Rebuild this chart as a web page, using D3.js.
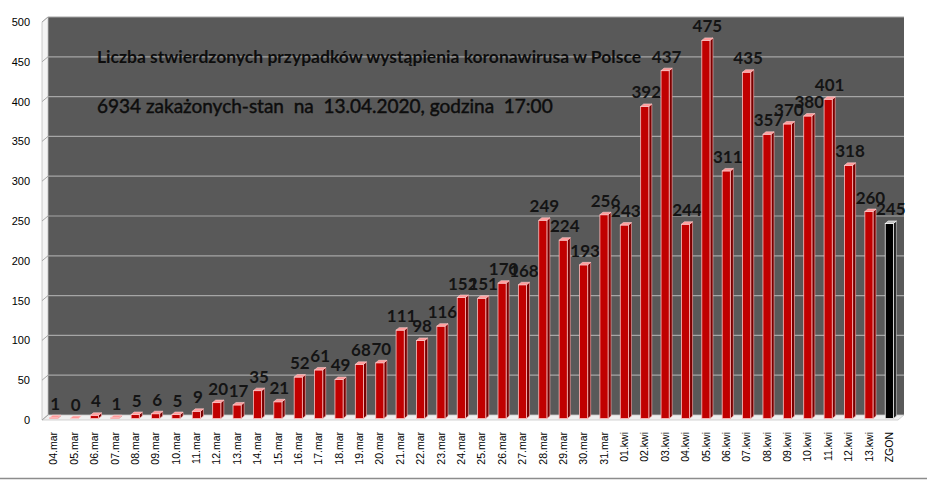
<!DOCTYPE html>
<html>
<head>
<meta charset="utf-8">
<script src="https://cdn.jsdelivr.net/npm/d3@7"></script>
<style>
  body { margin: 0; background: #ffffff; }
  svg { display: block; }
</style>
</head>
<body>
<svg id="chart" width="927" height="480"></svg>
<script>
/***************************  Data ***************************/
var categories = ["04.mar","05.mar","06.mar","07.mar","08.mar","09.mar","10.mar","11.mar","12.mar","13.mar",
                  "14.mar","15.mar","16.mar","17.mar","18.mar","19.mar","20.mar","21.mar","22.mar","23.mar",
                  "24.mar","25.mar","26.mar","27.mar","28.mar","29.mar","30.mar","31.mar",
                  "01.kwi","02.kwi","03.kwi","04.kwi","05.kwi","06.kwi","07.kwi","08.kwi","09.kwi","10.kwi",
                  "11.kwi","12.kwi","13.kwi","ZGON"];
var cases = [1,0,4,1,5,6,5,9,20,17,
             35,21,52,61,49,68,70,111,98,116,
             152,151,170,168,249,224,193,256,
             243,392,437,244,475,311,435,357,370,380,
             401,318,260,245];
var yTicks = [0,50,100,150,200,250,300,350,400,450,500];
var titleLines = ["Liczba stwierdzonych przypadków wystąpienia koronawirusa w Polsce",
                  "6934 zakażonych-stan  na  13.04.2020, godzina  17:00"];

/***************************  Setup ***************************/
var svg = d3.select("#chart");
var depthX = 6, depthY = -5;          // front -> back wall offset
var barDX = 3, barDY = -2.5;          // bar side/top depth
var shiftX = 1.5, shiftY = -1.5;      // bar front face sits a bit behind the floor edge

var x = d3.scaleBand().domain(categories).range([42, 898]).padding(0);
var y = d3.scaleLinear().domain([0, 500]).range([420, 22]);

var x0 = x.range()[0], x1 = x.range()[1];
var yBottom = y(0), yTop = y(500);

function pts(a) { return a.map(function(p){ return p[0] + "," + p[1]; }).join(" "); }

/***************************  Walls ***************************/
// back wall
svg.append("rect")
    .attr("x", x0 + depthX).attr("y", yTop + depthY)
    .attr("width", x1 - x0).attr("height", yBottom - yTop)
    .attr("fill", "#595959");

// left side wall
svg.append("polygon")
    .attr("points", pts([[x0, yTop],[x0 + depthX, yTop + depthY],[x0 + depthX, yBottom + depthY],[x0, yBottom]]))
    .attr("fill", "#f4f4f4")
    .attr("stroke", "#bfbfbf").attr("stroke-width", 0.8);

// floor
svg.append("polygon")
    .attr("points", pts([[x0, yBottom],[x0 + depthX, yBottom + depthY],[x1 + depthX, yBottom + depthY],[x1, yBottom]]))
    .attr("fill", "#efefef")
    .attr("stroke", "#c8c8c8").attr("stroke-width", 0.8);

// gridlines on back wall and side wall
var grid = svg.append("g").attr("id", "grid");
grid.selectAll("line.back")
    .data(yTicks.filter(function(d){ return d > 0; }))
    .enter()
    .append("line")
    .attr("class", "back")
    .attr("x1", x0 + depthX).attr("x2", x1 + depthX)
    .attr("y1", function(d){ return y(d) + depthY; })
    .attr("y2", function(d){ return y(d) + depthY; })
    .attr("stroke", "#a6a6a6").attr("stroke-width", 1.2);
grid.selectAll("line.side")
    .data(yTicks)
    .enter()
    .append("line")
    .attr("class", "side")
    .attr("x1", x0).attr("x2", x0 + depthX)
    .attr("y1", function(d){ return y(d); })
    .attr("y2", function(d){ return y(d) + depthY; })
    .attr("stroke", "#a6a6a6").attr("stroke-width", 1);

/***************************  Bars ***************************/
var barW = x.bandwidth() * 0.4;
var bars = svg.append("g").attr("id", "bars")
    .selectAll("g")
    .data(categories.map(function(c, i){ return {cat: c, val: cases[i], dead: c === "ZGON"}; }))
    .enter()
    .append("g");

function barLeft(d) { return x(d.cat) + (x.bandwidth() - barW) / 2 + shiftX; }
function barTop(d) { return y(d.val) + shiftY; }
var barBase = yBottom + shiftY;

// side face
bars.append("polygon")
    .attr("points", function(d){
        var l = barLeft(d) + barW, t = barTop(d);
        return pts([[l, t],[l + barDX, t + barDY],[l + barDX, barBase + barDY],[l, barBase]]);
    })
    .attr("fill", function(d){ return d.dead ? "#1e1e1e" : "#7a0000"; })
    .attr("stroke", function(d){ return d.dead ? "#d9d9d9" : "#ffb3b3"; })
    .attr("stroke-width", 0.6);

// front face
bars.append("rect")
    .attr("x", barLeft)
    .attr("y", barTop)
    .attr("width", barW)
    .attr("height", function(d){ return barBase - barTop(d); })
    .attr("fill", function(d){ return d.dead ? "#000000" : "#c00000"; })
    .attr("stroke", function(d){ return d.dead ? "#f0f0f0" : "#ffc0c0"; })
    .attr("stroke-width", 0.8);

// top face
bars.append("polygon")
    .attr("points", function(d){
        var l = barLeft(d), t = barTop(d);
        return pts([[l, t],[l + barW, t],[l + barW + barDX, t + barDY],[l + barDX, t + barDY]]);
    })
    .attr("fill", function(d){ return d.dead ? "#bfbfbf" : "#ff9a9a"; })
    .attr("stroke", function(d){ return d.dead ? "#ffffff" : "#ffd0d0"; })
    .attr("stroke-width", 0.6);

// value labels
bars.append("text")
    .text(function(d){ return d.val; })
    .attr("x", function(d){ return barLeft(d) + (barW + barDX) / 2; })
    .attr("y", function(d){ return barTop(d) - 8; })
    .attr("text-anchor", "middle")
    .attr("font-family", "Lato, 'Open Sans', sans-serif")
    .attr("font-weight", "bold")
    .attr("font-size", "17px")
    .attr("fill", "#141414");

/***************************  Axes ***************************/
var yAxis = svg.append("g")
    .attr("transform", "translate(" + (x0 - 6) + ",0)")
    .call(d3.axisLeft(y).tickValues(yTicks).tickSize(0).tickPadding(6));
yAxis.select(".domain").remove();
yAxis.selectAll("text")
    .attr("font-family", "'Liberation Sans', Arial, sans-serif")
    .attr("font-size", "11px")
    .attr("fill", "#000");

var xAxis = svg.append("g")
    .attr("transform", "translate(" + shiftX + "," + yBottom + ")")
    .call(d3.axisBottom(x).tickSize(0));
xAxis.select(".domain").remove();
xAxis.selectAll("text")
    .attr("font-family", "'Liberation Sans', Arial, sans-serif")
    .attr("font-size", "10.5px")
    .attr("fill", "#000")
    .attr("text-anchor", "end")
    .attr("transform", "translate(0,12) rotate(-90)")
    .attr("x", 0)
    .attr("y", 0)
    .attr("dy", "0.35em");

/***************************  Title ***************************/
svg.append("text")
    .text(titleLines[0])
    .attr("x", 97).attr("y", 63)
    .attr("font-family", "Lato, 'Open Sans', sans-serif")
    .attr("font-weight", "bold")
    .attr("font-size", "17.5px")
    .attr("fill", "#0d0d0d");
svg.append("text")
    .text(titleLines[1])
    .attr("x", 97).attr("y", 113)
    .attr("xml:space", "preserve")
    .style("white-space", "pre")
    .attr("font-family", "Lato, 'Open Sans', sans-serif")
    .attr("font-size", "19px")
    .attr("fill", "#0d0d0d")
    .attr("stroke", "#0d0d0d")
    .attr("stroke-width", 0.45);

// bottom border of the chart area
svg.append("line")
    .attr("x1", 0).attr("x2", 927)
    .attr("y1", 478.5).attr("y2", 478.5)
    .attr("stroke", "#8c8c8c").attr("stroke-width", 1.5);
</script>
</body>
</html>
